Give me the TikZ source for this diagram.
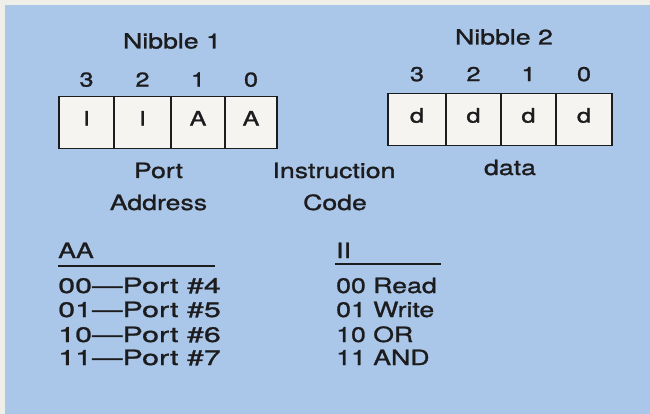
\documentclass[tikz,border=0pt]{standalone}
\usepackage{fontspec}
\setmainfont[FakeStretch=1.27, FakeBold=1.2]{TeX Gyre Heros}
\newfontfamily\widefont[Ligatures=TeX, FakeStretch=1.45, FakeBold=1.2]{TeX Gyre Heros}
\definecolor{paper}{RGB}{240,238,232}
\definecolor{panel}{RGB}{170,198,232}
\definecolor{ink}{RGB}{28,28,30}
\definecolor{cellfill}{RGB}{246,244,240}
\tikzset{
  lbl/.style={text=ink, font=\fontsize{21}{25}\selectfont, inner sep=0pt},
  bitno/.style={text=ink, font=\fontsize{20}{24}\selectfont, inner sep=0pt, text height=0.72em, text depth=0pt},
  cell/.style={draw=ink, line width=1.6pt, fill=cellfill, text=ink,
    font=\fontsize{20}{24}\selectfont, inner sep=0pt, minimum height=52pt,
    text height=0.62em, text depth=0pt},
  rule/.style={draw=ink, line width=1.7pt}
}
\begin{document}
\begin{tikzpicture}[x=1pt, y=-1pt]
  \useasboundingbox (0,0) rectangle (650,414);
  % page and blue panel
  \fill[paper] (0,0) rectangle (650,414);
  \fill[panel] (5,5) rectangle (650,414);

  % nibble 1
  \node[lbl] (nib1) at (172,41) {Nibble 1};
  \foreach \b/\x/\w/\t in {3/86.5/55/I, 2/142.5/57/I, 1/198/54/A, 0/251/52/A} {
    \node[bitno] (b1-\b) at (\x,83) {\b};
    \node[cell, minimum width=\w pt] (c1-\b) at (\x,122.5) {\t};
  }

  % nibble 2
  \node[lbl] (nib2) at (504,37) {Nibble 2};
  \foreach \b/\x/\w in {3/417/58, 2/473.5/55, 1/528.5/55, 0/584/56} {
    \node[bitno] (b2-\b) at (\x,77.5) {\b};
    \node[cell, minimum width=\w pt] (c2-\b) at (\x,119.5) {d};
  }

  % field names
  \node[lbl, anchor=base] (port) at (158.5,178) {Port};
  \node[lbl, anchor=base] (addr) at (158.5,210) {Address};
  \node[lbl, anchor=base] (instr) at (334,178) {Instruction};
  \node[lbl, anchor=base] (code) at (335,210) {Code};
  \node[lbl, anchor=base] (data) at (510,175) {data};

  % port table
  \node[lbl, anchor=base west] (aa) at (58,258) {AA};
  \coordinate (aa-l) at (58,266);
  \coordinate (aa-r) at (215,266);
  \draw[rule] (aa-l) -- (aa-r);
  \foreach \i/\y/\t in {0/293/00---Port \#4, 1/317/01---Port \#5, 2/342/10---Port \#6, 3/365/11---Port \#7}
    \node[lbl, anchor=base west, font=\fontsize{21}{25}\widefont] (pt-\i) at (58,\y) {\t};

  % instruction table
  \node[lbl, anchor=base west] (ii) at (336,258) {II};
  \coordinate (ii-l) at (335,264);
  \coordinate (ii-r) at (441,264);
  \draw[rule] (ii-l) -- (ii-r);
  \foreach \i/\y/\t in {0/293/00 Read, 1/317/01 Write, 2/342/10 OR, 3/365/11 AND}
    \node[lbl, anchor=base west] (op-\i) at (336,\y) {\t};
\end{tikzpicture}
\end{document}
